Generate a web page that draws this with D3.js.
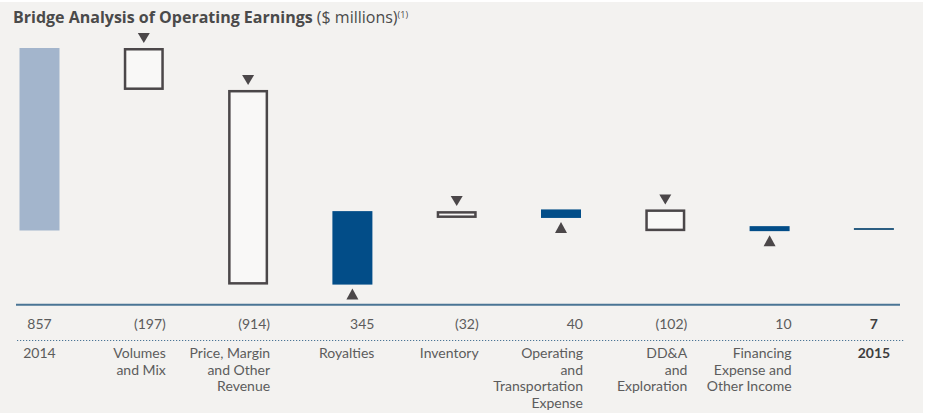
<!DOCTYPE html>
<html>
<head>
<meta charset="utf-8">
<script src="https://cdn.jsdelivr.net/npm/d3@7"></script>
<style>
  html, body { margin: 0; padding: 0; background: #ffffff; }
  svg { display: block; }
  text { font-family: "Lato", "Open Sans", sans-serif; }
</style>
</head>
<body>
<svg id="chart" width="925" height="413"></svg>
<script>
// ---- data ----
const categories = ["2014", "Volumes and Mix", "Price, Margin and Other Revenue", "Royalties", "Inventory",
  "Operating and Transportation Expense", "DD&A and Exploration", "Financing Expense and Other Income", "2015"];
const categoryLines = [["2014"], ["Volumes", "and Mix"], ["Price, Margin", "and Other", "Revenue"], ["Royalties"],
  ["Inventory"], ["Operating", "and", "Transportation", "Expense"], ["DD&A", "and", "Exploration"],
  ["Financing", "Expense and", "Other Income"], ["2015"]];
const values = [857, -197, -914, 345, -32, 40, -102, 10, 7];
const valueLabels = ["857", "(197)", "(914)", "345", "(32)", "40", "(102)", "10", "7"];
const kinds = ["total", "step", "step", "step", "step", "step", "step", "step", "total"];

// ---- layout ----
const svg = d3.select("#chart");
const W = 925, H = 413;
svg.append("rect").attr("x", 0).attr("y", 2).attr("width", 923).attr("height", H - 2).attr("fill", "#f3f2f0");

const step = 104.3, firstCenter = 39.5;
const x = d3.scaleBand().domain(categories)
  .range([firstCenter - step / 2, firstCenter - step / 2 + step * categories.length]).padding(0);
const barW = 40;
const y = d3.scaleLinear().domain([0, 857]).range([230.5, 48]);
const minH = 5;

// compute waterfall segments
let running = 0;
const segs = values.map((v, i) => {
  let s;
  if (kinds[i] === "total") { s = { from: 0, to: v }; running = v; }
  else { s = { from: running, to: running + v }; running += v; }
  return Object.assign(s, { cat: categories[i], v, i, kind: kinds[i] });
});

const cx = d => x(d.cat) + x.bandwidth() / 2;
const g = svg.append("g");

segs.forEach(d => {
  const c = cx(d);
  let yTop = y(Math.max(d.from, d.to));
  const yBot = y(Math.min(d.from, d.to));
  if (d.kind !== "total" && yBot - yTop < minH) yTop = yBot - minH;
  if (d.kind === "total") {
    if (d.i === 0) {
      g.append("rect").attr("x", c - barW / 2).attr("y", yTop).attr("width", barW)
        .attr("height", yBot - yTop).attr("fill", "#a3b5cc");
    } else {
      g.append("line").attr("x1", c - barW / 2).attr("x2", c + barW / 2)
        .attr("y1", y(d.v)).attr("y2", y(d.v)).attr("stroke", "#2b5e82").attr("stroke-width", 2);
    }
  } else if (d.v < 0) {
    g.append("rect").attr("x", c - barW / 2 + 1.25).attr("y", yTop + 1.25)
      .attr("width", barW - 2.5).attr("height", Math.max(0, yBot - yTop - 2.5))
      .attr("fill", "#f9f8f7").attr("stroke", "#4b4749").attr("stroke-width", 2.5);
    const t = yTop - 5;
    g.append("path").attr("d", `M${c - 6},${t - 10}L${c + 6},${t - 10}L${c},${t}Z`).attr("fill", "#4b4749");
  } else {
    g.append("rect").attr("x", c - barW / 2).attr("y", yTop).attr("width", barW)
      .attr("height", yBot - yTop).attr("fill", "#024d88");
    const t = yBot + 4;
    g.append("path").attr("d", `M${c - 6},${t + 11}L${c + 6},${t + 11}L${c},${t}Z`).attr("fill", "#4b4749");
  }
});

// axis lines
svg.append("line").attr("x1", 16).attr("x2", 900).attr("y1", 304.8).attr("y2", 304.8)
  .attr("stroke", "#4a7595").attr("stroke-width", 2);
svg.append("line").attr("x1", 17).attr("x2", 904).attr("y1", 340.5).attr("y2", 340.5)
  .attr("stroke", "#4a7595").attr("stroke-width", 1.2).attr("stroke-dasharray", "1.2,1.8");

// value labels & category labels
segs.forEach(d => {
  const c = cx(d);
  const isTotal = d.kind === "total";
  const ax = isTotal ? c : c + barW / 2 + 2;
  const anchor = isTotal ? "middle" : "end";
  const bold = d.i === categories.length - 1;
  svg.append("text").attr("x", ax).attr("y", 329).attr("text-anchor", anchor)
    .attr("font-size", 14).attr("fill", bold ? "#3e3e3e" : "#5c5c5c")
    .attr("font-weight", bold ? 700 : 400).text(valueLabels[d.i]);
  const t = svg.append("text").attr("x", ax).attr("y", 358).attr("text-anchor", anchor)
    .attr("font-size", 14).attr("fill", bold ? "#3e3e3e" : "#5c5c5c")
    .attr("font-weight", bold ? 700 : 400);
  categoryLines[d.i].forEach((ln, k) => {
    t.append("tspan").attr("x", ax).attr("y", 358 + k * 16.7).text(ln);
  });
});

// title
const title = svg.append("text").attr("x", 13).attr("y", 23).attr("font-size", 16).attr("fill", "#4a4a4a")
  .style("font-family", "'Open Sans', sans-serif");
title.append("tspan").attr("font-weight", 700).text("Bridge Analysis of Operating Earnings");
title.append("tspan").attr("font-weight", 400).text(" ($ millions)");
title.append("tspan").attr("font-weight", 400).attr("font-size", 9).attr("dy", -5).text("(1)");
</script>
</body>
</html>
